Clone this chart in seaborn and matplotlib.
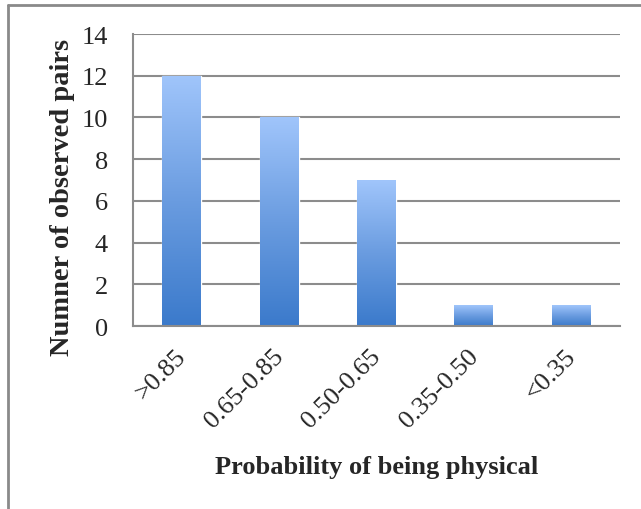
import numpy as np
import pandas as pd
import matplotlib
matplotlib.use("Agg")
import matplotlib.pyplot as plt
from matplotlib.colors import LinearSegmentedColormap
from matplotlib.lines import Line2D
from matplotlib.transforms import ScaledTranslation
import seaborn as sns

categories = [">0.85", "0.65-0.85", "0.50-0.65", "0.35-0.50", "<0.35"]
counts = [12, 10, 7, 1, 1]
y_ticks = [0, 2, 4, 6, 8, 10, 12, 14]

sns.set_style("white")
plt.rcParams["font.family"] = ["Liberation Serif", "DejaVu Serif"]

df = pd.DataFrame({"bin": categories, "n": counts})

fig = plt.figure(figsize=(6.41, 5.10), dpi=100)
ax = fig.add_axes([133 / 641, 1 - 327 / 510, (620 - 133) / 641, (327 - 35) / 510])

sns.barplot(data=df, x="bin", y="n", ax=ax, width=0.4, color="#5b8fd9", saturation=1)

# gradient fill, light on top, dark at the base of each bar
cmap = LinearSegmentedColormap.from_list("bar", ["#3b7acb", "#6a9ce0", "#a0c5fb"])
grad = np.linspace(0, 1, 256).reshape(-1, 1)
for p in ax.patches:
    x0, y0 = p.get_x(), p.get_y()
    w, h = p.get_width(), p.get_height()
    im = ax.imshow(grad, cmap=cmap, origin="lower", aspect="auto",
                   extent=[x0, x0 + w, y0, y0 + h], zorder=2)
    im.set_clip_path(p)
    p.set_facecolor("none")

ax.set_xlim(-0.5, len(categories) - 0.5)
ax.set_ylim(0, 14)
ax.set_yticks(y_ticks)
ax.set_yticklabels([str(t) for t in y_ticks], fontsize=19)
ax.yaxis.grid(True, color="#8c8c8c", linewidth=1.5)
ax.set_axisbelow(True)

for s in ["top", "right"]:
    ax.spines[s].set_visible(False)
for s in ["left", "bottom"]:
    ax.spines[s].set_color("#8c8c8c")
    ax.spines[s].set_linewidth(1.5)

# excel style: ticks between categories
ax.set_xticks(np.arange(-0.5, len(categories), 1.0), minor=False)
ax.set_xticklabels([""] * (len(categories) + 1))
ax.tick_params(axis="x", which="major", direction="out", length=6, width=1.5, color="#8c8c8c")
ax.set_xticks(np.arange(len(categories)), minor=True)
ax.set_xticklabels(categories, minor=True, rotation=45, ha="right",
                   rotation_mode="anchor", fontsize=19)
ax.tick_params(axis="x", which="minor", length=0, pad=12)
ax.tick_params(axis="y", direction="out", length=6, width=1.5, color="#8c8c8c", pad=12)
shift = ScaledTranslation(-5 / 72, -1.5 / 72, fig.dpi_scale_trans)
for lbl in ax.get_xticklabels(minor=True):
    lbl.set_transform(lbl.get_transform() + shift)

ax.set_xlabel("Probability of being physical", fontsize=19, fontweight="bold", labelpad=17)
ax.set_ylabel("Numner of observed pairs", fontsize=20.5, fontweight="bold")
ax.yaxis.set_label_coords(-0.119, 0.445)

# chart area border (only the top and left edges are in frame)
fig.add_artist(Line2D([8 / 641, 8 / 641], [0, 1 - 6 / 510], transform=fig.transFigure,
                      color="#8a8a8a", linewidth=2))
fig.add_artist(Line2D([8 / 641, 1], [1 - 6 / 510, 1 - 6 / 510], transform=fig.transFigure,
                      color="#8a8a8a", linewidth=2))

fig.savefig("out.png", dpi=100, facecolor="white")
